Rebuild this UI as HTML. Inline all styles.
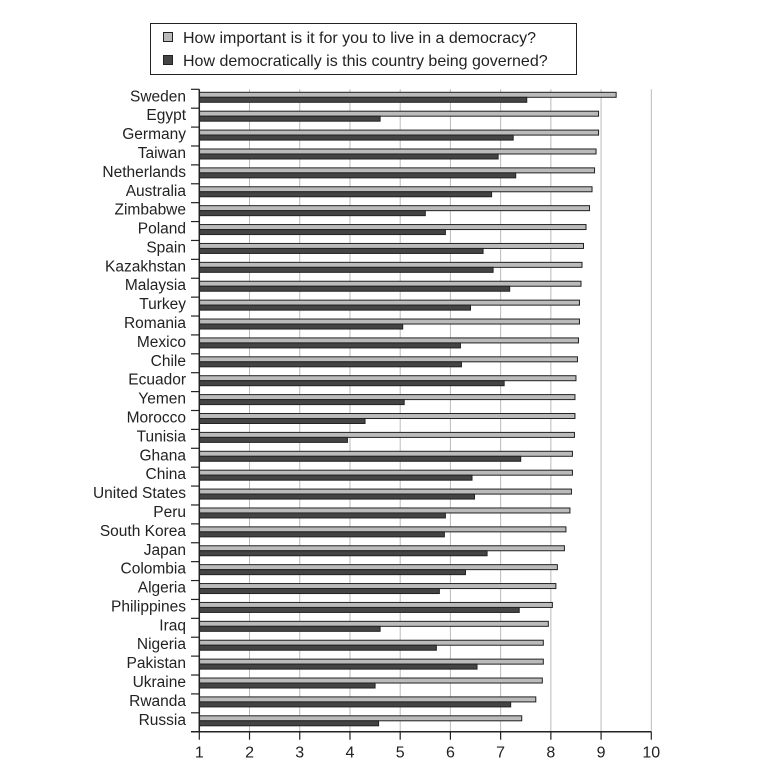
<!DOCTYPE html>
<html><head><meta charset="utf-8"><style>
body{margin:0;background:#fff;}
svg{display:block;font-family:"Liberation Sans",sans-serif;}
</style></head><body>
<svg id="chart" width="760" height="784">
<g>
<rect x="150.5" y="23.5" width="426" height="51" fill="#fff" stroke="#222" stroke-width="1"/>
<g>
<rect x="163.5" y="32.5" width="9" height="9" fill="#bbb" stroke="#222"/>
<text x="183" y="43" font-size="16" fill="#222">How important is it for you to live in a democracy?</text></g>
<g>
<rect x="163.5" y="55.5" width="9" height="9" fill="#444" stroke="#222"/>
<text x="183" y="66" font-size="16" fill="#222">How democratically is this country being governed?</text></g>
</g>
<g id="grid"></g><g id="bars"></g><g id="axes"></g>
</svg>
<script>
const countries=["Sweden","Egypt","Germany","Taiwan","Netherlands","Australia","Zimbabwe","Poland","Spain","Kazakhstan","Malaysia","Turkey","Romania","Mexico","Chile","Ecuador","Yemen","Morocco","Tunisia","Ghana","China","United States","Peru","South Korea","Japan","Colombia","Algeria","Philippines","Iraq","Nigeria","Pakistan","Ukraine","Rwanda","Russia"];
const importance=[9.3,8.95,8.95,8.9,8.87,8.82,8.77,8.7,8.65,8.62,8.6,8.57,8.57,8.55,8.53,8.5,8.48,8.48,8.47,8.43,8.43,8.41,8.38,8.3,8.27,8.13,8.1,8.03,7.95,7.85,7.85,7.83,7.7,7.42];
const governed=[7.52,4.6,7.25,6.95,7.3,6.82,5.5,5.9,6.65,6.85,7.18,6.4,5.05,6.2,6.22,7.07,5.08,4.3,3.95,7.4,6.43,6.48,5.9,5.88,6.73,6.3,5.78,7.37,4.6,5.72,6.53,4.5,7.2,4.57];
const ticks=[1,2,3,4,5,6,7,8,9,10];
const NS="http://www.w3.org/2000/svg";
const X0=199.3,X1=651.3,Y0=89.3,Y1=731.7;
const xs=v=>X0+(v-1)/9*(X1-X0);
const band=(Y1-Y0)/countries.length;
const ys=i=>Y0+i*band;
function mk(tag,attrs,parent){const e=document.createElementNS(NS,tag);for(const k in attrs)e.setAttribute(k,attrs[k]);parent.appendChild(e);return e;}
const grid=document.getElementById('grid'),bars=document.getElementById('bars'),axes=document.getElementById('axes');
ticks.forEach(t=>{if(t===1)return;
const l=mk('line',{x1:xs(t),x2:xs(t),y1:Y0,y2:Y1,stroke:'#bbb','stroke-width':1},grid);

});
countries.forEach((c,i)=>{
const y=ys(i);
const a=mk('rect',{x:X0,y:y+3,width:xs(importance[i])-X0,height:5,fill:'#bbb',stroke:'#222','stroke-width':1},bars);


const b=mk('rect',{x:X0,y:y+8,width:xs(governed[i])-X0,height:5,fill:'#444',stroke:'#222','stroke-width':1},bars);


const t=mk('text',{x:186,y:y+12,'text-anchor':'end','font-size':15.5,fill:'#222'},axes);
t.textContent=c;


const tk=mk('line',{x1:191,x2:X0,y1:y,y2:y,stroke:'#222','stroke-width':1.2},axes);


});
const yl=mk('line',{x1:X0,x2:X0,y1:Y0,y2:Y1,stroke:'#222','stroke-width':1.5},axes);


const xl=mk('line',{x1:191,x2:X1,y1:Y1,y2:Y1,stroke:'#222','stroke-width':1.5},axes);


ticks.forEach(t=>{
const l=mk('line',{x1:xs(t),x2:xs(t),y1:Y1,y2:Y1+8,stroke:'#222','stroke-width':1.2},axes);


const tx=mk('text',{x:xs(t),y:Y1+26,'text-anchor':'middle','font-size':16,fill:'#222'},axes);
tx.textContent=t;


});
</script>
</body></html>
